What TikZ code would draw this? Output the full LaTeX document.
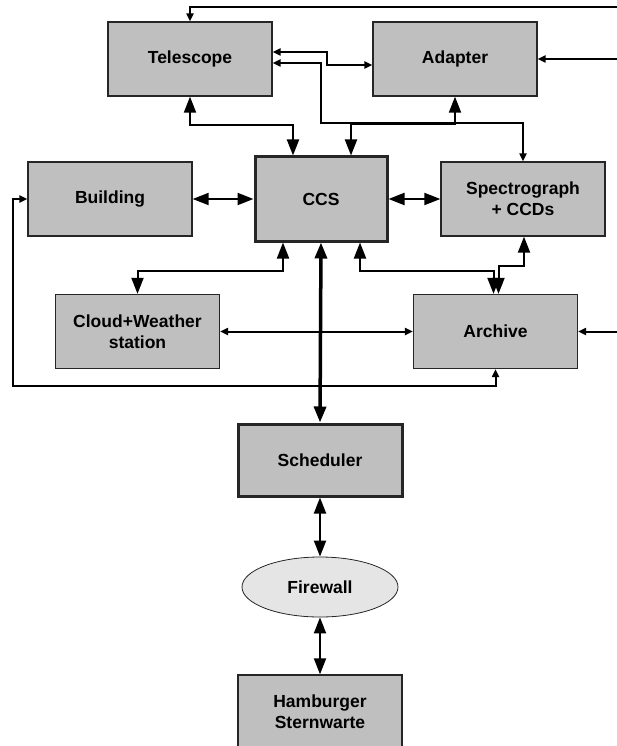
\documentclass[tikz,border=0pt]{standalone}
\usepackage{fontspec}
\setmainfont{Liberation Sans}
\usetikzlibrary{positioning, shapes.geometric, calc, arrows.meta}
\tikzstyle{unit} = [rectangle, minimum width=164pt, minimum height=74pt, text centered, align=center, draw=black!85, fill=gray!50, line width=1.3pt, font=\bfseries\fontsize{17.5}{21}\selectfont]
\tikzstyle{core} = [unit, line width=3pt]
\tikzstyle{gate} = [ellipse, minimum width=156pt, minimum height=60pt, draw=black!85, fill=gray!20, line width=0.8pt, font=\bfseries\fontsize{17.5}{21}\selectfont]
\tikzstyle{bigarrow} = [line width=2pt, {Triangle[length=16pt,width=12pt]}-{Triangle[length=16pt,width=12pt]}]
\tikzstyle{smallarrow} = [line width=2pt, -{Triangle[length=8pt,width=7pt]}]
\tikzstyle{smallboth} = [line width=2pt, {Triangle[length=8pt,width=7pt]}-{Triangle[length=8pt,width=7pt]}]

\begin{document}
\begin{tikzpicture}[x=1pt, y=-1pt]
  \useasboundingbox (0,0) rectangle (617,746);
  %Boxes
  \node (tel) [unit] at (190,59) {Telescope};
  \node (adp) [unit] at (455,59) {Adapter};
  \node (bld) [unit] at (110,199) {Building};
  \node (ccs) [core, minimum width=132pt, minimum height=84pt] at (321,199) {CCS};
  \node (spc) [unit] at (523,199) {Spectrograph\\+ CCDs};
  \node (cld) [unit] at (137.5,331.5) {Cloud+Weather\\station};
  \node (arc) [unit] at (495.5,331.5) {Archive};
  \node (sch) [core, minimum height=72pt] at (320,460) {Scheduler};
  \node (fw) [gate] at (320,587) {Firewall};
  \node (hsw) [unit] at (320,712) {Hamburger\\Sternwarte};

  %Free ends at the right edge
  \coordinate (topin) at (617,7);
  \coordinate (adpin) at (617,59);
  \coordinate (arcin) at (617,331.5);

  %Connectors
  \draw [smallarrow] (topin) -| (tel.north);
  \draw [smallarrow] (adpin) -- (adp.east);
  \draw [smallboth] ($(tel.east)+(0,-7)$) -- ++(54,0) |- ($(adp.west)+(0,6)$);
  \draw [smallboth] ($(tel.east)+(0,4)$) -- ++(48,0) -- ++(0,60) -| (spc.north);
  \draw [bigarrow] (tel.south) -- ++(0,28) -| ($(ccs.north)+(-28,0)$);
  \draw [bigarrow] (adp.south) -- ++(0,27) -| ($(ccs.north)+(30,0)$);
  \draw [bigarrow] (bld.east) -- (ccs.west);
  \draw [bigarrow] (ccs.east) -- (spc.west);
  \draw [bigarrow] ($(ccs.south)+(-38,0)$) -- ++(0,28) -| (cld.north);
  \draw [bigarrow] ($(ccs.south)+(39,0)$) -- ++(0,28) -| ($(arc.north)+(-2,0)$);
  \draw [bigarrow] ($(spc.south)+(1,0)$) -- ++(0,29) -| ($(arc.north)+(3,0)$);
  \draw [smallboth] (cld.east) -- (arc.west);
  \draw [smallarrow] (arcin) -- (arc.east);
  \draw [smallboth] (bld.west) -- ++(-14,0) -- ++(0,187) -| (arc.south);
  \draw [bigarrow, line width=3.5pt] (ccs.south) -- (sch.north);
  \draw [bigarrow] (sch.south) -- (fw.north);
  \draw [bigarrow] (fw.south) -- (hsw.north);
\end{tikzpicture}
\end{document}
